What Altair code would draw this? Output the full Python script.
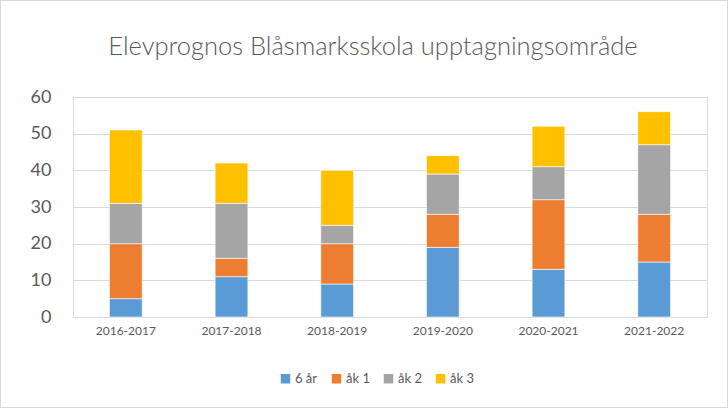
import altair as alt
import pandas as pd

years = ["2016-2017", "2017-2018", "2018-2019", "2019-2020", "2020-2021", "2021-2022"]
series = ["6 år", "åk 1", "åk 2", "åk 3"]
sex_ar = [5, 11, 9, 19, 13, 15]
ak1 = [15, 5, 11, 9, 19, 13]
ak2 = [11, 15, 5, 11, 9, 19]
ak3 = [20, 11, 15, 5, 11, 9]
colors = ["#5B9BD5", "#ED7D31", "#A5A5A5", "#FFC000"]
title_text = "Elevprognos Blåsmarksskola upptagningsområde"

rows = []
for si, (name, vals) in enumerate(zip(series, [sex_ar, ak1, ak2, ak3])):
    for y, v in zip(years, vals):
        rows.append({"År": y, "Grupp": name, "Antal": v, "ordning": si})
df = pd.DataFrame(rows)

FONT = "Lato"
TXT = "#595959"

bars = alt.Chart(df).mark_bar(stroke="white", strokeWidth=0.6).encode(
    x=alt.X("År:N", sort=years, title=None,
            scale=alt.Scale(paddingInner=0.69, paddingOuter=0.345),
            axis=alt.Axis(labelAngle=0, labelFontSize=12, labelColor=TXT, labelFont=FONT,
                          ticks=False, domain=True, domainColor="#d9d9d9", labelPadding=8)),
    y=alt.Y("Antal:Q", stack="zero", title=None,
            scale=alt.Scale(domain=[0, 60]),
            axis=alt.Axis(values=[0, 10, 20, 30, 40, 50, 60], labelFontSize=18, labelColor=TXT,
                          labelFont=FONT, fontWeight=300 if False else alt.Undefined,
                          ticks=False, domain=False, gridColor="#d9d9d9",
                          labelPadding=22)),
    color=alt.Color("Grupp:N", sort=series,
                    scale=alt.Scale(domain=series, range=colors),
                    legend=alt.Legend(title=None, orient="none", direction="horizontal",
                                      legendX=206, legendY=275, symbolType="square",
                                      symbolSize=90, symbolStrokeWidth=0, labelFontSize=13,
                                      labelColor=TXT, labelFont=FONT, columnPadding=12,
                                      labelOffset=3)),
    order=alt.Order("ordning:Q", sort="ascending"),
)

border = alt.Chart(df).mark_rect(fill=None, stroke="#d9d9d9", strokeWidth=1, clip=False).encode(
    x=alt.value(-72.5), x2=alt.value(654.5), y=alt.value(-96.5), y2=alt.value(310.5)
)

title = alt.Chart(pd.DataFrame({"t": [title_text]})).mark_text(
    fontSize=25.5, font=FONT, fontWeight=300, color=TXT, align="center", baseline="middle"
).encode(text="t:N", x=alt.value(300), y=alt.value(-50))

chart = alt.layer(border, bars, title).properties(
    width=634, height=220,
    padding={"left": 73, "top": 97, "right": 21, "bottom": 91},
    autosize=alt.AutoSizeParams(type="none"),
).configure_view(stroke=None).configure(background="white")

chart.save("out.html", embed_options={"renderer": "svg", "actions": False})
